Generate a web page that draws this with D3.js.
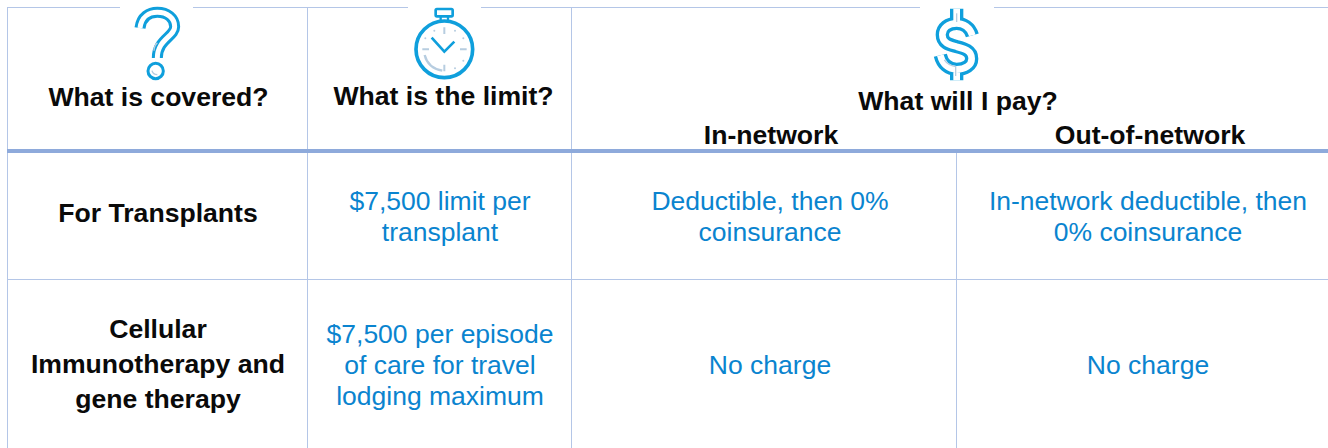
<!DOCTYPE html>
<html>
<head>
<meta charset="utf-8">
<script src="https://cdn.jsdelivr.net/npm/d3@7"></script>
<style>
    html, body { margin: 0; padding: 0; background: #fff; }
    svg { display: block; }
    text { font-family: "Liberation Sans", Arial, sans-serif; text-anchor: middle; }
    .head { font-weight: bold; font-size: 26.6px; fill: #0a0a0a; }
    .cell { font-size: 26.5px; fill: #0a84cf; }
</style>
</head>
<body>
<svg id="table" width="1328" height="448"></svg>
<script>
let svg = d3.select('#table');

// table content
let headings = ['What is covered?', 'What is the limit?', 'What will I pay?'];
let subHeadings = ['In-network', 'Out-of-network'];
let rowLabels = [['For Transplants'], ['Cellular', 'Immunotherapy and', 'gene therapy']];
let limits = [['$7,500 limit per', 'transplant'], ['$7,500 per episode', 'of care for travel', 'lodging maximum']];
let inNetwork = [['Deductible, then 0%', 'coinsurance'], ['No charge']];
let outNetwork = [['In-network deductible, then', '0% coinsurance'], ['No charge']];

let columns = ['covered', 'limit', 'in', 'out'];
let rows = ['transplants', 'cellular'];

// column edges and row edges
let x = d3.scaleOrdinal().domain(columns).range([7.5, 307.5, 571.5, 956.5]);
let xMid = d3.scaleOrdinal().domain(columns).range([158, 440, 770, 1148]);
let yMid = d3.scaleOrdinal().domain(rows).range([217, 366]);

let lineColor = '#b4c6e7';
let headColor = '#8eaadb';

function hLine(x1, x2, y, color, w) {
    svg.append('line')
        .attr('x1', x1)
        .attr('x2', x2)
        .attr('y1', y)
        .attr('y2', y)
        .attr('stroke', color)
        .attr('stroke-width', w);
}

function vLine(xPos, y1, y2) {
    svg.append('line')
        .attr('x1', xPos)
        .attr('x2', xPos)
        .attr('y1', y1)
        .attr('y2', y2)
        .attr('stroke', lineColor)
        .attr('stroke-width', 1);
}

// top border, with gaps behind the icons
hLine(7, 120, 7.5, lineColor, 1);
hLine(193, 408, 7.5, lineColor, 1);
hLine(481, 920, 7.5, lineColor, 1);
hLine(994, 1328, 7.5, lineColor, 1);

vLine(x('covered'), 7, 448);
vLine(x('limit'), 7, 448);
vLine(x('in'), 7, 448);
vLine(x('out'), 151, 448);

hLine(7, 1328, 279.5, lineColor, 1);
hLine(7, 1328, 151, headColor, 4);

// headings
let headRows = [
    { text: headings[0], x: 158.5, y: 106 },
    { text: headings[1], x: 443.5, y: 105 },
    { text: headings[2], x: 958, y: 110 },
    { text: subHeadings[0], x: xMid('in') + 1, y: 144 },
    { text: subHeadings[1], x: xMid('out') + 2, y: 144 }
];

svg.selectAll('.head')
    .data(headRows)
    .enter()
    .append('text')
    .attr('class', 'head')
    .attr('x', d => d.x)
    .attr('y', d => d.y)
    .text(d => d.text);

// draws a block of centred lines around the row middle
function block(lines, col, row, cls, gap, shift) {
    let top = yMid(row) - ((lines.length - 1) * gap) / 2;
    svg.append('g')
        .selectAll('text')
        .data(lines)
        .enter()
        .append('text')
        .attr('class', cls)
        .attr('x', xMid(col))
        .attr('y', (d, i) => top + i * gap + 8 + shift)
        .text(d => d);
}

rows.forEach((row, i) => {
    block(rowLabels[i], 'covered', row, 'head', 35, i === 0 ? -3 : -1.5);
    block(limits[i], 'limit', row, 'cell', 31, 0);
    block(inNetwork[i], 'in', row, 'cell', 31, 0);
    block(outNetwork[i], 'out', row, 'cell', 31, 0);
});

// icons, drawn in a 3x box so the curves are easier to write
let iconBlue = '#0f9fdc';
let iconGrey = '#b7cde0';

function outlined(g, d, wide, narrow) {
    g.append('path')
        .attr('d', d)
        .attr('fill', 'none')
        .attr('stroke', iconBlue)
        .attr('stroke-width', wide);
    g.append('path')
        .attr('d', d)
        .attr('fill', 'none')
        .attr('stroke', '#fff')
        .attr('stroke-width', narrow);
}

function grey(g, d, w) {
    g.append('path')
        .attr('d', d)
        .attr('fill', 'none')
        .attr('stroke', iconGrey)
        .attr('stroke-width', w);
}

// question mark
let q = svg.append('g').attr('transform', 'translate(120,0) scale(0.3333)');
outlined(q, 'M60,84 C64,50 88,37 112,37 C142,37 164,54 164,80 C164,110 112,118 112,174', 33, 15);
q.append('circle').attr('cx', 107).attr('cy', 213).attr('r', 23)
    .attr('fill', '#fff').attr('stroke', iconBlue).attr('stroke-width', 9);
grey(q, 'M102,152 C102,142 106,134 112,128', 4);
grey(q, 'M96,212 C98,220 104,224 112,224', 4);

// stopwatch
let t = svg.append('g').attr('transform', 'translate(400,0) scale(0.3333)');
t.append('rect').attr('x', 107).attr('y', 27).attr('width', 51).attr('height', 22).attr('rx', 4)
    .attr('fill', '#fff').attr('stroke', iconBlue).attr('stroke-width', 8);
t.append('path').attr('d', 'M122,49V62M144,49V62').attr('stroke', iconBlue).attr('stroke-width', 7);
t.append('circle').attr('cx', 133).attr('cy', 148).attr('r', 85)
    .attr('fill', '#fff').attr('stroke', iconBlue).attr('stroke-width', 11);
grey(t, 'M133,82V102M133,194V214M67,148H87M180,148H200', 6);
grey(t, 'M74,165 C80,190 100,207 127,212', 7);
t.append('path').attr('d', 'M95,113L133,155L163,125')
    .attr('fill', 'none').attr('stroke', iconBlue).attr('stroke-width', 8);
t.selectAll('.tick-dot')
    .data([[103, 92], [165, 92], [190, 115], [190, 182], [165, 205], [76, 115]])
    .enter()
    .append('circle')
    .attr('cx', d => d[0])
    .attr('cy', d => d[1])
    .attr('r', 3)
    .attr('fill', iconGrey);

// dollar sign
let s = svg.append('g').attr('transform', 'translate(915,0) scale(0.3333)');
let dollar = 'M125,26V70M125,205V241M172,106 C165,82 145,70 125,70 C100,70 82,84 82,104 C82,130 105,134 125,140 C148,146 170,152 170,176 C170,196 150,208 125,208 C100,208 82,192 76,166';
outlined(s, dollar, 40, 20);
grey(s, 'M125,40V66', 4);
grey(s, 'M88,180 C96,192 110,198 122,200 V228', 4);
</script>
</body>
</html>
